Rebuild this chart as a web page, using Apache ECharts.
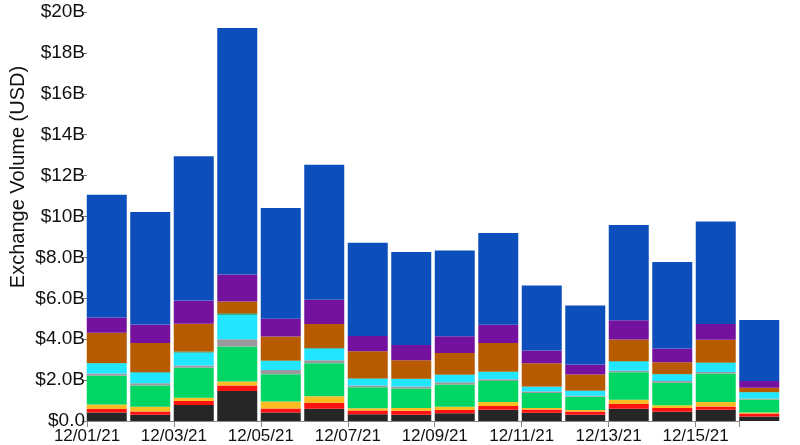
<!DOCTYPE html>
<html>
<head>
<meta charset="utf-8">
<script src="https://cdn.jsdelivr.net/npm/echarts@6/dist/echarts.min.js"></script>
<style>
html,body{margin:0;padding:0;background:#fff;}
#chart{width:800px;height:445px;}
</style>
</head>
<body>
<div id="chart"></div>
<script>
// Dates (one bar per day)
const dates = ['12/01/21','12/02/21','12/03/21','12/04/21','12/05/21','12/06/21','12/07/21','12/08/21',
               '12/09/21','12/10/21','12/11/21','12/12/21','12/13/21','12/14/21','12/15/21','12/16/21'];
// Stacked layers, bottom to top, values in $B
const layerBlack    = [0.42,0.30,0.78,1.47,0.41,0.60,0.33,0.30,0.38,0.55,0.40,0.30,0.60,0.45,0.55,0.22];
const layerRed      = [0.17,0.16,0.20,0.26,0.20,0.28,0.18,0.20,0.16,0.18,0.16,0.17,0.23,0.18,0.16,0.15];
const layerYellow   = [0.22,0.24,0.16,0.20,0.34,0.33,0.11,0.13,0.16,0.20,0.08,0.07,0.21,0.14,0.22,0.05];
const layerGreen    = [1.40,1.03,1.47,1.71,1.34,1.61,1.03,0.96,1.09,1.03,0.73,0.65,1.34,1.10,1.39,0.63];
const layerGray     = [0.11,0.12,0.10,0.36,0.20,0.15,0.08,0.10,0.10,0.08,0.07,0.05,0.08,0.08,0.08,0.05];
const layerCyan     = [0.50,0.52,0.64,1.19,0.45,0.57,0.34,0.36,0.36,0.36,0.23,0.23,0.45,0.33,0.44,0.30];
const layerDkGreen  = [0.02,0.02,0.05,0.08,0.02,0.03,0.02,0.02,0.02,0.02,0.02,0.02,0.02,0.02,0.02,0.02];
const layerBrown    = [1.47,1.42,1.35,0.57,1.17,1.17,1.32,0.90,1.06,1.39,1.14,0.78,1.06,0.57,1.11,0.21];
const layerPurple   = [0.75,0.91,1.14,1.32,0.87,1.19,0.75,0.75,0.81,0.90,0.62,0.49,0.94,0.68,0.77,0.33];
const layerBlue     = [6.00,5.50,7.06,12.06,5.41,6.60,4.56,4.55,4.20,4.48,3.18,2.89,4.66,4.22,5.02,2.98];
// Y tick labels (value / 2 -> label)
const yTickLabels = ['$0.0','$2.0B','$4.0B','$6.0B','$8.0B','$10B','$12B','$14B','$16B','$18B','$20B'];
const yTitle = 'Exchange Volume (USD)';

const layers = [
  {name:'black',   data:layerBlack,   color:'#262626'},
  {name:'red',     data:layerRed,     color:'#ff1212'},
  {name:'yellow',  data:layerYellow,  color:'#fbbd23'},
  {name:'green',   data:layerGreen,   color:'#00d663'},
  {name:'gray',    data:layerGray,    color:'#9a9a9e'},
  {name:'cyan',    data:layerCyan,    color:'#22e6ff'},
  {name:'dkgreen', data:layerDkGreen, color:'#1f8a4a'},
  {name:'brown',   data:layerBrown,   color:'#b85b00'},
  {name:'purple',  data:layerPurple,  color:'#74129f'},
  {name:'blue',    data:layerBlue,    color:'#0c4fbc'}
];

const chart = echarts.init(document.getElementById('chart'), null, {renderer:'canvas'});
const FONT = 'Liberation Sans, Arial, Helvetica, sans-serif';

const option = {
  animation: false,
  grid: [
    // grid 0: the bars (one band per day)
    {left: 85, right: 19, top: 12, bottom: 24, containLabel: false},
    // grid 1: the visible axes (date ticks from 12/01 to 12/16)
    {left: 87, right: 61, top: 12, bottom: 24, containLabel: false}
  ],
  xAxis: [
    {
      type: 'category', gridIndex: 0, data: dates, boundaryGap: true, show: false
    },
    {
      type: 'value', gridIndex: 1, min: 0, max: dates.length - 1, interval: 2,
      splitLine: {show: false},
      axisLine: {show: true, lineStyle: {color: '#888', width: 1}},
      axisTick: {show: true, length: 6, lineStyle: {color: '#888'}},
      axisLabel: {
        color: '#111', fontSize: 17, fontFamily: FONT, margin: 7,
        showMaxLabel: true, showMinLabel: true,
        formatter: function (v) {
          const i = Math.round(v);
          if (i % 2 !== 0 || i >= dates.length - 1) return '';
          return dates[i];
        }
      }
    }
  ],
  yAxis: [
    {type: 'value', gridIndex: 0, min: 0, max: 20, interval: 2, show: false},
    {
      type: 'value', gridIndex: 1, min: 0, max: 20, interval: 2,
      splitLine: {show: false},
      axisLine: {show: false},
      axisTick: {show: true, length: 5, lineStyle: {color: '#777'}},
      axisLabel: {
        color: '#111', fontSize: 19, fontFamily: FONT, margin: 2,
        formatter: function (v) { return yTickLabels[Math.round(v / 2)]; }
      }
    }
  ],
  graphic: [{
    type: 'text', x: 18, y: 177, rotation: Math.PI / 2,
    style: {text: yTitle, fill: '#111', font: '20px ' + FONT, textAlign: 'center', textVerticalAlign: 'middle'}
  }],
  series: layers.map(function (l) {
    return {
      type: 'bar', name: l.name, stack: 'total',
      xAxisIndex: 0, yAxisIndex: 0,
      barWidth: 40,
      itemStyle: {color: l.color},
      data: l.data
    };
  })
};
chart.setOption(option);
</script>
</body>
</html>
